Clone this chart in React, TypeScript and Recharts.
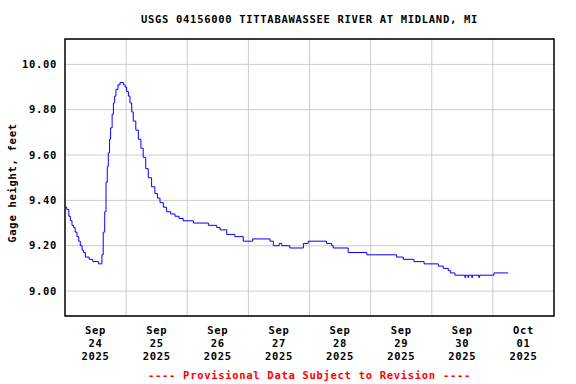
import {
  CartesianGrid,
  Line,
  LineChart,
  ReferenceArea,
  XAxis,
  YAxis,
} from "recharts";

// hours since Sep 24 2025 00:00
const hours = [
  0, 0.7, 1.5, 2.1, 2.75, 3.4, 4.0, 4.7, 5.4, 6.0, 6.7, 7.3, 8.0, 9.5, 10.9, 13.2, 14.5, 15.0,
  15.6, 16.1, 16.6, 17.0, 17.5, 17.9, 18.5, 19.0, 19.5, 20.0, 20.8, 21.6, 22.9, 23.6, 24.2,
  24.9, 25.5, 26.2, 26.8, 27.8, 28.8, 29.8, 30.7, 31.7, 32.7, 34.0, 35.3, 36.3, 37.3, 38.6,
  39.9, 41.5, 43.2, 44.8, 46.4, 50.4, 56.3, 59.6, 60.9, 63.5, 66.7, 70.0, 73.7, 80.5, 81.8,
  84.1, 85.1, 88.3, 93.6, 95.5, 102.7, 104.7, 105.3, 111.2, 118.5, 130.2, 132.8, 137.0, 141.0,
  146.6, 148.5, 150.5, 151.4, 153.1, 157.0, 157.3, 158.2, 158.5, 159.7, 160.0, 162.5, 162.8,
  168.4, 174.0,
];

const gageFeet = [
  9.37, 9.36, 9.33, 9.31, 9.29, 9.28, 9.26, 9.24, 9.22, 9.2, 9.18, 9.17, 9.15, 9.14, 9.13, 9.12,
  9.16, 9.26, 9.35, 9.48, 9.55, 9.61, 9.67, 9.72, 9.78, 9.83, 9.86, 9.89, 9.91, 9.92, 9.91,
  9.9, 9.88, 9.86, 9.83, 9.79, 9.75, 9.71, 9.67, 9.63, 9.59, 9.54, 9.5, 9.46, 9.43, 9.41, 9.39,
  9.37, 9.35, 9.34, 9.33, 9.32, 9.31, 9.3, 9.29, 9.28, 9.27, 9.25, 9.24, 9.22, 9.23, 9.22, 9.2,
  9.21, 9.2, 9.19, 9.21, 9.22, 9.21, 9.2, 9.19, 9.17, 9.16, 9.15, 9.14, 9.13, 9.12, 9.11, 9.1,
  9.09, 9.08, 9.07, 9.06, 9.07, 9.06, 9.07, 9.06, 9.07, 9.06, 9.07, 9.08, 9.08,
];

const dayTicks = [12, 36, 60, 84, 108, 132, 156, 180];
const dayLabels = [
  ["Sep", "24", "2025"],
  ["Sep", "25", "2025"],
  ["Sep", "26", "2025"],
  ["Sep", "27", "2025"],
  ["Sep", "28", "2025"],
  ["Sep", "29", "2025"],
  ["Sep", "30", "2025"],
  ["Oct", "01", "2025"],
];
const midnights = [24, 48, 72, 96, 120, 144, 168];
const gageTicks = [9.0, 9.2, 9.4, 9.6, 9.8, 10.0];

const X_MAX = 192;
const Y_MIN = 8.89;
const Y_MAX = 10.112;

const data = hours.map((h, i) => ({ h, ft: gageFeet[i] }));

const FONT = "'DejaVu Sans Mono', 'Liberation Mono', monospace";
const textStyle = {
  fontFamily: FONT,
  fontWeight: "bold" as const,
  fontSize: 10.5,
  letterSpacing: 0.7,
};

function DayTick({ x, y, payload }: any) {
  const idx = dayTicks.indexOf(payload.value);
  const lines = dayLabels[idx] || [];
  return (
    <text x={x} textAnchor="middle" fill="#000" style={textStyle}>
      {lines.map((line, i) => (
        <tspan key={i} x={x} y={y + 10 + i * 13}>
          {line}
        </tspan>
      ))}
    </text>
  );
}

export default function App() {
  return (
    <div style={{ position: "absolute", left: 0, top: 0, width: 576, height: 384, background: "#fff" }}>
      <div
        style={{
          position: "absolute",
          left: 0,
          top: 12,
          width: 619,
          textAlign: "center",
          ...textStyle,
          fontSize: 10.5,
          lineHeight: "14px",
        }}
      >
        USGS 04156000 TITTABAWASSEE RIVER AT MIDLAND, MI
      </div>
      <LineChart
        width={576}
        height={384}
        data={data}
        margin={{ top: 39, right: 22, bottom: 0, left: 0 }}
      >
        <CartesianGrid stroke="#cccccc" verticalValues={midnights} />
        <XAxis
          dataKey="h"
          type="number"
          domain={[0, X_MAX]}
          ticks={dayTicks}
          tick={<DayTick />}
          tickLine={false}
          axisLine={false}
          height={68}
          interval={0}
        />
        <YAxis
          type="number"
          domain={[Y_MIN, Y_MAX]}
          ticks={gageTicks}
          tickFormatter={(v: number) => v.toFixed(2)}
          tickLine={false}
          axisLine={false}
          width={65}
          tick={{ fill: "#000", style: textStyle }}
          allowDataOverflow
          label={(props: any) => (
            <text
              x={11.5}
              y={183}
              transform="rotate(-90 11.5 183)"
              textAnchor="middle"
              dominantBaseline="central"
              fill="#000"
              style={textStyle}
            >
              Gage height, feet
            </text>
          )}
        />
        <Line
          dataKey="ft"
          type="stepAfter"
          stroke="#0000ff"
          strokeWidth={1}
          dot={false}
          isAnimationActive={false}
        />
        <ReferenceArea
          x1={0}
          x2={X_MAX}
          y1={Y_MIN}
          y2={Y_MAX}
          fill="none"
          stroke="#000"
          strokeWidth={1.5}
          ifOverflow="visible"
        />
      </LineChart>
      <div
        style={{
          position: "absolute",
          left: 0,
          top: 368,
          width: 619,
          textAlign: "center",
          ...textStyle,
          color: "#ff0000",
          lineHeight: "14px",
        }}
      >
        ---- Provisional Data Subject to Revision ----
      </div>
    </div>
  );
}
